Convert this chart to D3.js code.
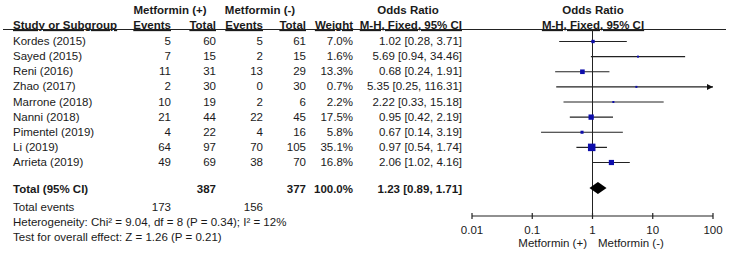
<!DOCTYPE html>
<html><head><meta charset="utf-8">
<script src="https://cdn.jsdelivr.net/npm/d3@7/dist/d3.min.js"></script>
<style>
body{margin:0;background:#fff;}
svg{display:block;}
text{font-family:"Liberation Sans",Arial,sans-serif;font-size:11.5px;fill:#1a1a1a;}
.b{font-weight:bold;}
</style></head><body>
<svg id="c" width="729" height="253"></svg>
<script>
const studies = ["Kordes (2015)","Sayed (2015)","Reni (2016)","Zhao (2017)","Marrone (2018)","Nanni (2018)","Pimentel (2019)","Li (2019)","Arrieta (2019)"];
const eventsPlus = [5,7,11,2,10,21,4,64,49];
const totalPlus = [60,15,31,30,19,44,22,97,69];
const eventsMinus = [5,2,13,0,2,22,4,70,38];
const totalMinus = [61,15,29,30,6,45,16,105,70];
const weights = [7.0,1.6,13.3,0.7,2.2,17.5,5.8,35.1,16.8];
const orVals = [1.02,5.69,0.68,5.35,2.22,0.95,0.67,0.97,2.06];
const ciLow = [0.28,0.94,0.24,0.25,0.33,0.42,0.14,0.54,1.02];
const ciHigh = [3.71,34.46,1.91,116.31,15.18,2.19,3.19,1.74,4.16];
const total = {label:"Total (95% CI)", totalPlus:387, totalMinus:377, weight:100.0, or:1.23, lo:0.89, hi:1.71};
const totalEvents = [173,156];
const hetText = "Heterogeneity: Chi\u00B2 = 9.04, df = 8 (P = 0.34); I\u00B2 = 12%";
const testText = "Test for overall effect: Z = 1.26 (P = 0.21)";
const axisTicks = [0.01,0.1,1,10,100];
const tickLabels = ["0.01","0.1","1","10","100"];
const favourLabels = ["Metformin (+)","Metformin (-)"];

const svg = d3.select("#c");
const x = d3.scaleLog().domain([0.01,100]).range([472,713]);
const rowY = d3.scalePoint().domain(d3.range(studies.length)).range([41,162]);
const totalY = 189;
const axisY = 216;
const sz = d3.scaleSqrt().domain([0,35.1]).range([0,7.5]);

function t(xp,yp,s,anchor,cls){
  return svg.append("text").attr("x",xp).attr("y",yp).attr("text-anchor",anchor||"start").attr("class",cls||null).text(s);
}
t(170,14,"Metformin (+)","middle","b");
t(260,14,"Metformin (-)","middle","b");
t(408,14,"Odds Ratio","middle","b");
t(593,14,"Odds Ratio","middle","b");
const h2y = 29;
const u1 = [ [13,"Study or Subgroup","start"],[171,"Events","end"],[216,"Total","end"],[263,"Events","end"],[306,"Total","end"],[353,"Weight","end"],[462,"M-H, Fixed, 95% CI","end"],[593,"M-H, Fixed, 95% CI","middle"] ];
u1.forEach(d=>{ t(d[0],h2y,d[1],d[2],"b").attr("text-decoration","underline"); });
svg.append("line").attr("x1",3).attr("x2",726).attr("y1",29.5).attr("y2",29.5).attr("stroke","#222").attr("stroke-width",1);

studies.forEach((s,i)=>{
  const y = rowY(i)+4;
  t(13,y,s);
  t(171,y,eventsPlus[i],"end");
  t(216,y,totalPlus[i],"end");
  t(263,y,eventsMinus[i],"end");
  t(306,y,totalMinus[i],"end");
  t(353,y,weights[i].toFixed(1)+"%","end");
  t(462,y,orVals[i].toFixed(2)+" ["+ciLow[i].toFixed(2)+", "+ciHigh[i].toFixed(2)+"]","end");
});
t(13,totalY+4,total.label,"start","b");
t(216,totalY+4,total.totalPlus,"end","b");
t(306,totalY+4,total.totalMinus,"end","b");
t(353,totalY+4,total.weight.toFixed(1)+"%","end","b");
t(462,totalY+4,total.or.toFixed(2)+" ["+total.lo.toFixed(2)+", "+total.hi.toFixed(2)+"]","end","b");
t(13,211,"Total events");
t(171,211,totalEvents[0],"end");
t(263,211,totalEvents[1],"end");
t(13,226,hetText);
t(13,241,testText);

svg.append("line").attr("x1",x(1)).attr("x2",x(1)).attr("y1",30).attr("y2",axisY).attr("stroke","#222").attr("stroke-width",1);
studies.forEach((s,i)=>{
  const y = rowY(i)+0.5;
  const hiC = Math.min(ciHigh[i],100);
  svg.append("line").attr("x1",x(Math.max(ciLow[i],0.01))).attr("x2",x(hiC)).attr("y1",y).attr("y2",y).attr("stroke","#222").attr("stroke-width",1.2);
  if(ciHigh[i]>100){
    const xe = x(100);
    svg.append("path").attr("d",`M${xe},${y} L${xe-6},${y-3} L${xe-6},${y+3} Z`).attr("fill","#111");
  }
  const s2 = Math.max(sz(weights[i]),2);
  svg.append("rect").attr("x",x(orVals[i])-s2/2).attr("y",y-s2/2).attr("width",s2).attr("height",s2).attr("fill","#0d0dab");
});
const dy = totalY-1;
svg.append("path").attr("d",`M${x(total.lo)},${dy} L${x(total.or)},${dy-6} L${x(total.hi)},${dy} L${x(total.or)},${dy+6} Z`).attr("fill","#000");

const ax = svg.append("g").attr("transform",`translate(0,${axisY})`);
ax.append("line").attr("x1",x(0.01)).attr("x2",x(100)).attr("stroke","#222").attr("stroke-width",1.2);
axisTicks.forEach((v,i)=>{
  ax.append("line").attr("x1",x(v)).attr("x2",x(v)).attr("y1",-3).attr("y2",3).attr("stroke","#222").attr("stroke-width",1.2);
  ax.append("text").attr("x",x(v)).attr("y",18).attr("text-anchor","middle").text(tickLabels[i]);
});
t(587,247,favourLabels[0],"end");
t(598,247,favourLabels[1],"start");
</script>
</body></html>
